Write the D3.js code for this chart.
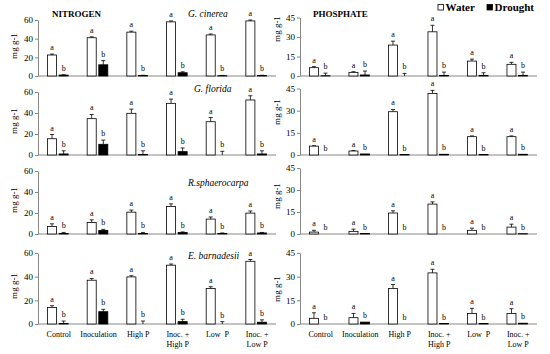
<!DOCTYPE html>
<html lang="en">
<head>
  <meta charset="utf-8">
  <title>Nitrogen and phosphate – water vs drought</title>
  <style>
    html,body { margin:0; padding:0; background:#fff; overflow:hidden; }
    svg  { display:block; }
    text { font-family:"Liberation Serif","Times New Roman",serif; fill:#000; }
    .axis path, .axis line { stroke:#888; stroke-width:1px; }
    .axis text { font-size:9px; }
  </style>
  <script src="https://d3js.org/d3.v7.min.js"></script>
</head>
<body>
  <svg width="550" height="354"></svg>

  <script>
  /* ---------------- data ---------------- */
  const groups = ["Control", "Inoculation", "High P", "Inoc. + High P", "Low  P", "Inoc. + Low P"];
  const groupLines = [["Control"], ["Inoculation"], ["High P"], ["Inoc. +", "High P"], ["Low  P"], ["Inoc. +", "Low P"]];
  const species = ["G. cinerea", "G. florida", "R.sphaerocarpa", "E. barnadesii"];
  const treatments = ["Water", "Drought"];
  const letters = ["a", "b"];

  const nitrogenTicks = [0, 20, 40, 60];
  const phosphateTicks = [0, 15, 30, 45];

  // nitrogen, mg g-1 (one row per species)
  const nitrogenWater    = [[22.5, 41, 47, 58, 44, 59], [15.5, 34.6, 39.7, 49.2, 31.7, 52.4], [7.2, 11, 20.8, 26.2, 14.2, 19.9], [14, 37, 39.8, 49.7, 30, 53]];
  const nitrogenWaterErr = [[1, 1, 1, 1, 1, 1], [4, 4, 4, 4, 4, 4], [2.5, 2.5, 2, 2.5, 2, 2], [1.5, 1.5, 1, 1, 1.5, 1.5]];
  const nitrogenDrought    = [[1, 12, 0.5, 3.5, 0.3, 0.5], [1, 10.2, 0.5, 3.2, 0, 1], [0.5, 3.4, 0.5, 1.5, 0.5, 1], [0.5, 10.4, 0, 2, 0, 1.5]];
  const nitrogenDroughtErr = [[0.3, 4.5, 0.3, 1, 0.3, 0.3], [3, 4, 3.5, 3.5, 3.5, 3], [1, 1, 1, 0.5, 0.5, 0.5], [2, 2, 2.5, 2, 2, 2]];

  // phosphate, mg g-1
  const phosphateWater    = [[6.4, 2.8, 23.8, 34, 11.5, 9], [6, 2.7, 29.3, 41.7, 12.4, 12.4], [1.3, 1.8, 14.3, 20.4, 2.5, 4.7], [3.6, 4, 22.5, 32.4, 6.7, 6.7]];
  const phosphateWaterErr = [[0.8, 0.5, 3, 5, 1.5, 1.5], [0.3, 0.3, 1.5, 2, 0.5, 0.5], [1.2, 1.5, 1.5, 1.5, 1.5, 2], [3.5, 2.7, 2.5, 2.3, 3.2, 3]];
  const phosphateDrought    = [[0.2, 0.8, 0, 0.5, 0.5, 0.5], [0, 0.7, 0.3, 0.5, 0.3, 0.5], [0, 0.3, 0, 0, 0, 0.2], [0, 1.2, 0, 0.3, 0.3, 0.5]];
  const phosphateDroughtErr = [[2, 3, 2, 2.5, 2, 2.5], [0, 0, 0, 0, 0, 0], [0, 0, 0, 0, 0, 0], [0, 0, 0, 0, 0, 0]];

  /* ---------------- layout ---------------- */
  const svg = d3.select("svg");

  const columns = [
    { title: "NITROGEN",  titleX: 52,  xRange: [38, 276],  labelX: 17,  ticks: nitrogenTicks,
      rows: [[20, 76], [92, 155], [171, 234], [253, 324]], labelY: [46, 121, 200, 286],
      water: nitrogenWater, waterErr: nitrogenWaterErr, drought: nitrogenDrought, droughtErr: nitrogenDroughtErr },
    { title: "PHOSPHATE", titleX: 313, xRange: [300, 537], labelX: 280, ticks: phosphateTicks,
      rows: [[17.5, 76], [88.5, 155], [168, 234], [253, 324]], labelY: [29, 112, 196, 289],
      water: phosphateWater, waterErr: phosphateWaterErr, drought: phosphateDrought, droughtErr: phosphateDroughtErr }
  ];
  const speciesPos = [[188, 17], [194, 92], [188, 185.5], [188, 259]];

  columns.forEach((col, ci) => {
    const x0 = d3.scaleBand().domain(groups).range(col.xRange).padding(0);
    const x1 = d3.scaleBand().domain(treatments).range([0, x0.bandwidth()])
                 .paddingInner(0.22).paddingOuter(0.82);

    col.rows.forEach(([top, bottom], ri) => {
      const y = d3.scaleLinear().domain([0, d3.max(col.ticks)]).range([bottom, top]);
      const g = svg.append("g");

      // y axis
      g.append("g")
          .attr("class", "axis")
          .attr("transform", `translate(${col.xRange[0]},0)`)
          .call(d3.axisLeft(y).tickValues(col.ticks).tickSize(3).tickSizeOuter(0).tickPadding(2));

      // baseline
      g.append("line")
          .attr("x1", col.xRange[0]).attr("x2", col.xRange[1])
          .attr("y1", y(0)).attr("y2", y(0))
          .attr("stroke", "#888");

      g.append("text")
          .attr("transform", `translate(${col.labelX},${col.labelY[ri]}) rotate(-90)`)
          .attr("text-anchor", "middle")
          .attr("font-size", 9)
          .text("mg g-1");

      const rowData = groups.flatMap((grp, gi) => [
        { grp, t: "Water",   v: col.water[ri][gi],   e: col.waterErr[ri][gi],   letter: letters[0] },
        { grp, t: "Drought", v: col.drought[ri][gi], e: col.droughtErr[ri][gi], letter: letters[1] }
      ]);
      const cx = d => x0(d.grp) + x1(d.t) + x1.bandwidth() / 2;

      // error bars (upper only)
      const err = g.append("g").attr("stroke", "#000").attr("stroke-width", 0.8)
        .selectAll("g").data(rowData.filter(d => d.e > 0)).join("g");
      err.append("line")
          .attr("x1", cx).attr("x2", cx)
          .attr("y1", d => y(d.v)).attr("y2", d => y(d.v + d.e));
      err.append("line")
          .attr("x1", d => cx(d) - 2).attr("x2", d => cx(d) + 2)
          .attr("y1", d => y(d.v + d.e)).attr("y2", d => y(d.v + d.e));

      // bars
      g.append("g").selectAll("rect").data(rowData).join("rect")
          .attr("x", d => x0(d.grp) + x1(d.t))
          .attr("width", x1.bandwidth())
          .attr("y", d => y(d.v))
          .attr("height", d => y(0) - y(d.v))
          .attr("fill", d => d.t === "Water" ? "#fff" : "#000")
          .attr("stroke", "#000")
          .attr("stroke-width", 0.8);

      // significance letters
      g.append("g").selectAll("text").data(rowData).join("text")
          .attr("x", cx)
          .attr("y", d => y(d.v + d.e) - 4)
          .attr("text-anchor", "middle")
          .attr("font-size", 8)
          .text(d => d.letter);

      // category labels on bottom row
      if (ri === col.rows.length - 1) {
        const lab = g.append("g").selectAll("text").data(groups).join("text")
            .attr("text-anchor", "middle")
            .attr("font-size", 8)
            .style("white-space", "pre");
        lab.selectAll("tspan").data((d, i) => groupLines[i]).join("tspan")
            .attr("x", function () { return x0(d3.select(this.parentNode).datum()) + x0.bandwidth() / 2 + 1; })
            .attr("y", (d, i) => 337 + i * 10)
            .text(d => d);
      }

      // species name (left column only)
      if (ci === 0) {
        svg.append("text")
            .attr("x", speciesPos[ri][0]).attr("y", speciesPos[ri][1])
            .attr("font-size", 9.5).attr("font-style", "italic")
            .text(species[ri]);
      }
    });

    svg.append("text")
        .attr("x", col.titleX).attr("y", 17)
        .attr("font-size", 9).attr("font-weight", "bold")
        .text(col.title);
  });

  /* ---------------- legend ---------------- */
  const legend = svg.append("g").attr("font-size", 11).attr("font-weight", "bold");
  [[438, "Water", "#fff"], [487, "Drought", "#000"]].forEach(([lx, name, fill]) => {
    legend.append("rect").attr("x", lx).attr("y", 4.5).attr("width", 5.5).attr("height", 5.5)
        .attr("fill", fill).attr("stroke", "#000").attr("stroke-width", 0.8);
    legend.append("text").attr("x", lx + 7.5).attr("y", 10.5).text(name);
  });
  </script>
</body>
</html>
